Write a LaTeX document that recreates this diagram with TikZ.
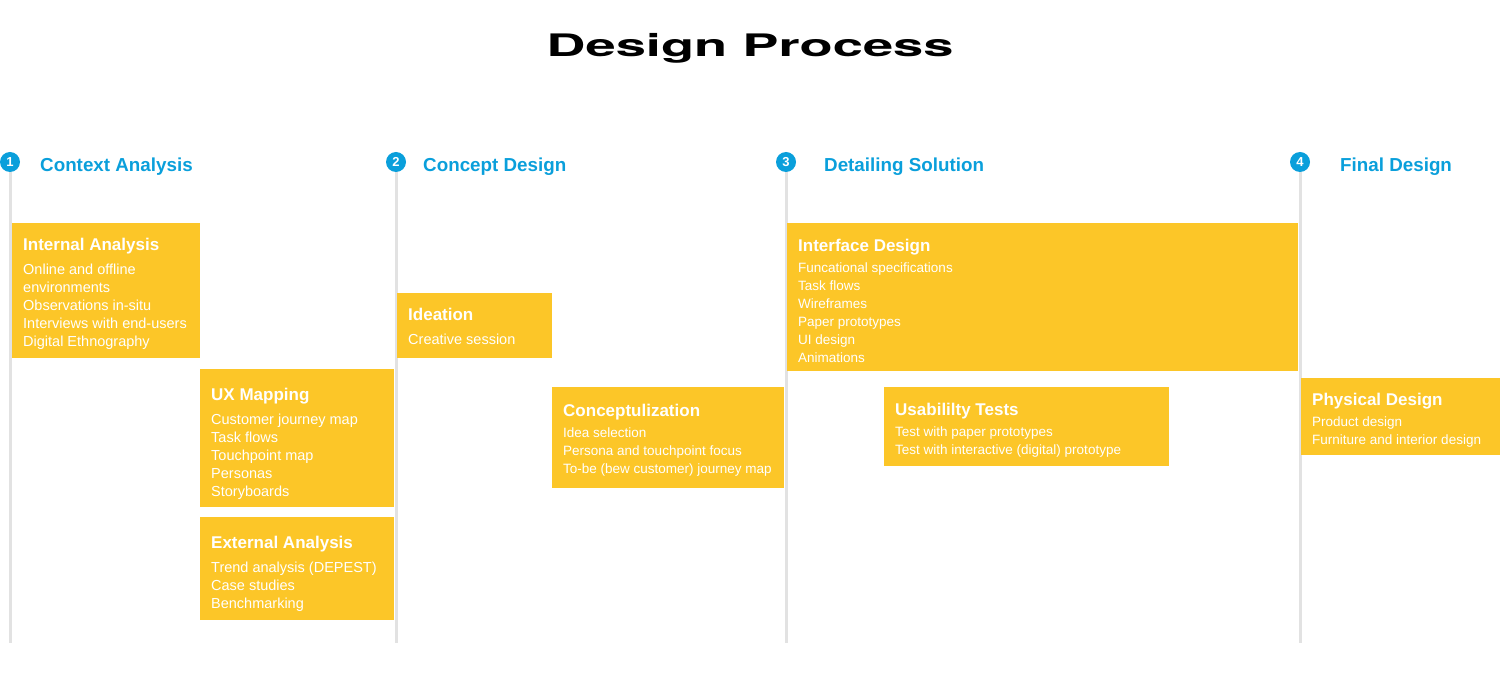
\documentclass[tikz,border=0pt]{standalone}
\usepackage{fontspec}
\setmainfont{Liberation Sans}
\newfontfamily\titlefont[FakeStretch=1.75]{TeX Gyre Heros}

\definecolor{cardyellow}{HTML}{FCC628}
\definecolor{stepblue}{HTML}{0A9FDB}
\definecolor{railgray}{HTML}{E2E2E2}

\tikzset{
  rail/.style={draw=railgray, line width=3pt},
  stepdot/.style={circle, fill=stepblue, minimum size=20pt, inner sep=0pt,
    text=white, font=\bfseries\fontsize{13}{13}\selectfont},
  phase/.style={anchor=west, inner xsep=0pt, text=stepblue, font=\bfseries\fontsize{18.8}{18.8}\selectfont},
  card/.style={fill=cardyellow, anchor=north west, inner sep=0pt},
  cardtext/.style={anchor=north west, text=white, align=left, inner xsep=11pt,
    inner ysep=15pt, font=\fontsize{14.5}{18}\selectfont,
    execute at begin node={\def\cardgap{6pt}}},
  tighttext/.style={cardtext, inner ysep=16pt, font=\fontsize{13.5}{18}\selectfont,
    execute at begin node={\def\cardgap{3pt}}},
}
\newcommand{\cardtitle}[1]{{\bfseries\fontsize{17}{17}\selectfont #1}\\[\cardgap]}

% \card{name}{x}{y}{width}{height}{text style}{text}
\newcommand{\card}[7]{%
  \node (#1) [card, minimum width=#4pt, minimum height=#5pt] at (#2,#3) {};
  \node (#1-text) [#6] at (#1.north west) {#7};
}

\begin{document}
\begin{tikzpicture}[x=1pt, y=-1pt]
  \useasboundingbox (0,0) rectangle (1500,700);

  \node (title) at (750,48) {\titlefont\bfseries\fontsize{31}{31}\selectfont Design Process};

  \foreach \i/\x/\hx/\name in {1/10/40/Context Analysis, 2/396/423/Concept Design,
      3/786/824/Detailing Solution, 4/1300/1340/Final Design}{
    \coordinate (top\i) at (\x,162);
    \coordinate (bot\i) at (\x,643);
    \draw[rail] (top\i) -- (bot\i);
    \node (step\i) [stepdot] at (top\i) {\i};
    \node (phase\i) [phase] at (\hx,167) {\name};
  }

  \card{internal}{12}{223}{188}{135}{cardtext}{\cardtitle{Internal Analysis}
    Online and offline\\ environments\\ Observations in-situ\\
    Interviews with end-users\\ Digital Ethnography}

  \card{uxmap}{200}{369}{194}{138}{cardtext, yshift=-4pt}{\cardtitle{UX Mapping}
    Customer journey map\\ Task flows\\ Touchpoint map\\ Personas\\ Storyboards}

  \card{external}{200}{517}{194}{103}{cardtext, yshift=-4pt}{\cardtitle{External Analysis}
    Trend analysis (DEPEST)\\ Case studies\\ Benchmarking}

  \card{ideation}{397}{293}{155}{65}{cardtext}{\cardtitle{Ideation}
    Creative session}

  \card{concept}{552}{387}{232}{101}{tighttext, yshift=-1pt}{\cardtitle{Conceptulization}
    Idea selection\\ Persona and touchpoint focus\\ To-be (bew customer) journey map}

  \card{interface}{787}{223}{511}{148}{tighttext}{\cardtitle{Interface Design}
    Funcational specifications\\ Task flows\\ Wireframes\\ Paper prototypes\\
    UI design\\ Animations}

  \card{usability}{884}{387}{285}{79}{tighttext}{\cardtitle{Usabililty Tests}
    Test with paper prototypes\\ Test with interactive (digital) prototype}

  \card{physical}{1301}{378}{199}{77}{tighttext, yshift=1pt}{\cardtitle{Physical Design}
    Product design\\ Furniture and interior design}
\end{tikzpicture}
\end{document}
